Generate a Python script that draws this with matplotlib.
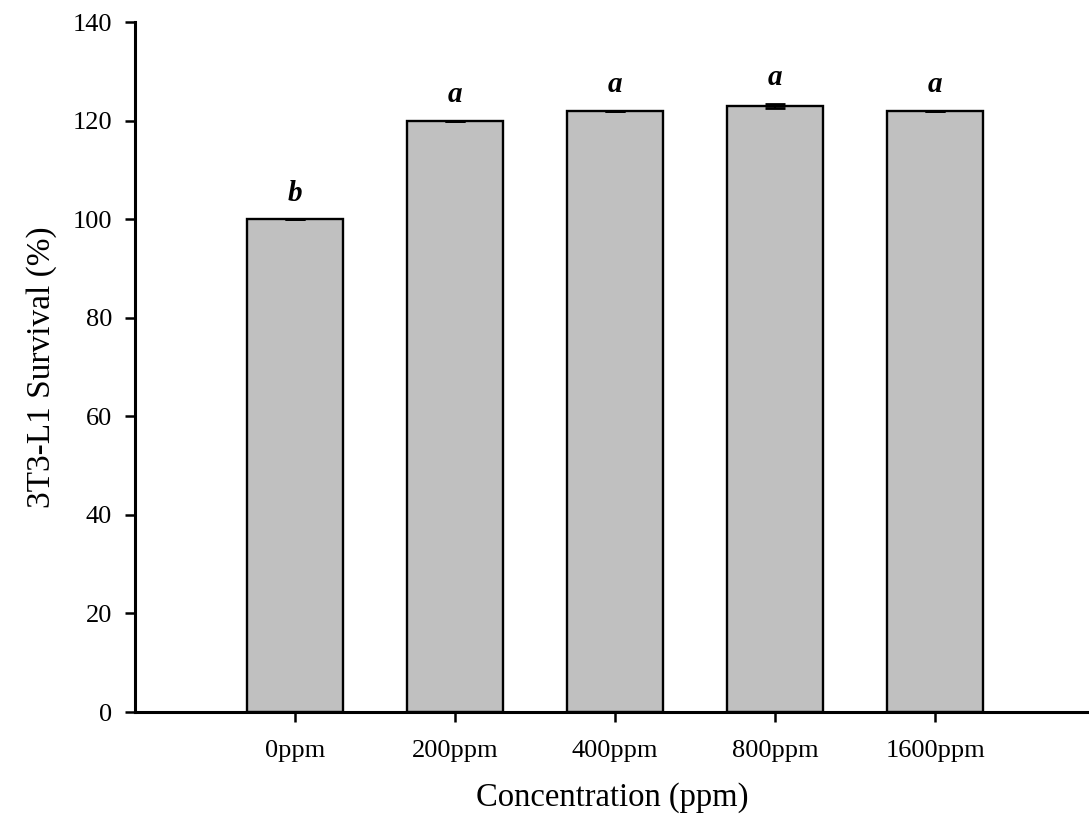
import matplotlib.pyplot as plt
import numpy as np

plt.rcParams['font.family'] = ['Liberation Serif', 'DejaVu Serif']

# survival data
concentrations = ['0ppm', '200ppm', '400ppm', '800ppm', '1600ppm']
survival = [100.0, 120.0, 122.0, 123.0, 122.0]
survival_err = [0.0, 0.0, 0.0, 0.4, 0.0]
groups = ['b', 'a', 'a', 'a', 'a']

fig = plt.figure(figsize=(10.89, 8.30), dpi=100)
ax = fig.add_axes([135 / 1089, 1 - 712 / 830, 1 - 135 / 1089, (712 - 22) / 830])

x = np.arange(len(concentrations))
ax.bar(x, survival, width=0.6, color='#c0c0c0', edgecolor='black', linewidth=1.7,
       yerr=survival_err, error_kw=dict(ecolor='black', elinewidth=1.5, capsize=7, capthick=2))

# significance letters
for xi, val, err, g in zip(x, survival, survival_err, groups):
    ax.text(xi, val + err + 2.5, g, ha='center', va='bottom', fontsize=21,
            fontweight='bold', fontstyle='italic')

ax.set_xlim(-1, 4.96)
ax.set_ylim(0, 140)
ax.set_yticks(np.arange(0, 141, 20))
ax.set_xticks(x)
ax.set_xticklabels(concentrations)

ax.spines['top'].set_visible(False)
ax.spines['right'].set_visible(False)
ax.spines['left'].set_linewidth(2.2)
ax.spines['bottom'].set_linewidth(2.2)
ax.tick_params(axis='both', direction='out', length=7.5, width=1.8, labelsize=19)
ax.tick_params(axis='y', pad=9)
ax.tick_params(axis='x', pad=13)

ax.set_ylabel('3T3-L1 Survival (%)', fontsize=24, labelpad=11)
ax.set_xlabel('Concentration (ppm)', fontsize=23.5, labelpad=14)

fig.savefig('out.png', dpi=100)
